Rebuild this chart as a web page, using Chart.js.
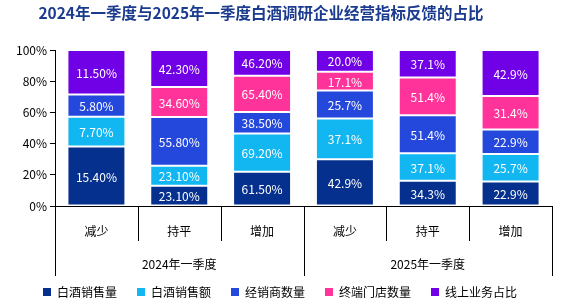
<!DOCTYPE html>
<html><head><meta charset="utf-8">
<script src="https://cdn.jsdelivr.net/npm/chart.js@4/dist/chart.umd.min.js"></script>
<style>
html,body{margin:0;padding:0;background:#fff;}
#wrap{position:relative;width:571px;height:306px;}
#title{position:absolute;left:0;top:2px;width:522px;text-align:center;font:bold 15.5px "Noto Sans CJK SC",sans-serif;color:#1B3B8E;line-height:20px;}
canvas{position:absolute;left:0;top:0;}
</style></head><body>
<div id="wrap"><canvas id="c" width="571" height="306"></canvas><div id="title">2024年一季度与2025年一季度白酒调研企业经营指标反馈的占比</div></div>
<script>
const categories = ['减少','持平','增加','减少','持平','增加'];
const groups = ['2024年一季度','2025年一季度'];
const seriesNames = ['白酒销售量','白酒销售额','经销商数量','终端门店数量','线上业务占比'];
const sales   = [15.4, 23.1, 61.5, 42.9, 34.3, 22.9];
const revenue = [7.7, 23.1, 69.2, 37.1, 37.1, 25.7];
const dealers = [5.8, 55.8, 38.5, 25.7, 51.4, 22.9];
const stores  = [null, 34.6, 65.4, 17.1, 51.4, 31.4];
const online  = [11.5, 42.3, 46.2, 20.0, 37.1, 42.9];
const labelDecimals = [2, 2, 2, 1, 1, 1];
const colors = ['#06308E', '#12B7F2', '#2548DC', '#FF3399', '#7000E6'];

const raws = [sales, revenue, dealers, stores, online];
const totals = categories.map((_, i) => raws.reduce((s, r) => s + (r[i] || 0), 0));
const datasets = raws.map((r, d) => ({
  label: seriesNames[d],
  data: r.map((v, i) => v == null ? null : v / totals[i] * 100),
  rawValues: r,
  backgroundColor: colors[d],
  borderColor: '#ffffff',
  borderWidth: 1,
  borderSkipped: false,
  categoryPercentage: 0.7,
  barPercentage: 1
}));

const FONT = '"Noto Sans CJK SC", sans-serif';

const labelPlugin = {
  id: 'segLabels',
  afterDatasetsDraw(chart) {
    const ctx = chart.ctx;
    ctx.save();
    ctx.fillStyle = '#ffffff';
    ctx.font = '12px ' + FONT;
    ctx.textAlign = 'center';
    ctx.textBaseline = 'middle';
    chart.data.datasets.forEach((ds, d) => {
      const meta = chart.getDatasetMeta(d);
      meta.data.forEach((el, i) => {
        const v = ds.rawValues[i];
        if (v == null) return;
        ctx.fillText(v.toFixed(labelDecimals[i]) + '%', el.x, (el.y + el.base) / 2 + 1);
      });
    });
    ctx.restore();
  }
};

const dividerPlugin = {
  id: 'dividers',
  afterLayout(chart) {
    if (chart.legend) { chart.legend.top -= 10; chart.legend.bottom -= 10; }
  },
  afterDraw(chart) {
    const x = chart.scales.x;
    const ctx = chart.ctx;
    const n = categories.length;
    const w = (x.right - x.left) / n;
    const per = n / groups.length;
    const bottom = chart.chartArea.bottom;
    ctx.save();
    ctx.strokeStyle = '#000';
    ctx.lineWidth = 1;
    for (let k = 0; k <= n; k++) {
      const px = Math.round(x.left + k * w) + 0.5;
      const len = (k % per === 0) ? 70 : 35;
      ctx.beginPath();
      ctx.moveTo(px, bottom);
      ctx.lineTo(px, bottom + len);
      ctx.stroke();
    }
    ctx.restore();
  }
};

new Chart(document.getElementById('c'), {
  type: 'bar',
  data: { labels: categories, datasets },
  plugins: [labelPlugin, dividerPlugin],
  options: {
    responsive: false,
    animation: false,
    devicePixelRatio: 1,
    layout: { padding: { top: 50, left: 8, right: 19, bottom: -12 } },
    plugins: {
      title: { display: false },
      tooltip: { enabled: false },
      legend: {
        position: 'bottom',
        labels: {
          font: { size: 12, family: FONT },
          color: '#000',
          boxWidth: 8,
          boxHeight: 8,
          padding: 20,
          generateLabels(chart) {
            return chart.data.datasets.map((ds, i) => ({
              text: ds.label, fillStyle: ds.backgroundColor, strokeStyle: ds.backgroundColor,
              lineWidth: 0, hidden: false, datasetIndex: i, fontColor: '#000'
            }));
          }
        }
      }
    },
    scales: {
      x: {
        stacked: true,
        grid: { display: false, drawTicks: false },
        border: { display: true, color: '#000', width: 1 },
        ticks: { font: { size: 12, family: FONT }, color: '#000', padding: 18, maxRotation: 0 },
        afterFit(s) { s.height = 35; }
      },
      x2: {
        type: 'category',
        labels: groups,
        position: 'bottom',
        offset: true,
        grid: { display: false, drawTicks: false },
        border: { display: false },
        ticks: { font: { size: 12, family: FONT }, color: '#000', padding: 16, maxRotation: 0 },
        afterFit(s) { s.height = 35; }
      },
      y: {
        stacked: true,
        min: 0, max: 100,
        grid: { display: true, drawOnChartArea: false, drawTicks: true, tickLength: 5, color: '#000' },
        border: { display: true, color: '#000', width: 1 },
        ticks: { stepSize: 20, font: { size: 12, family: FONT }, color: '#000', padding: 3, callback: v => v + '%' },
        afterFit(s) { s.width = 47; }
      }
    }
  }
});
</script>
</body></html>
